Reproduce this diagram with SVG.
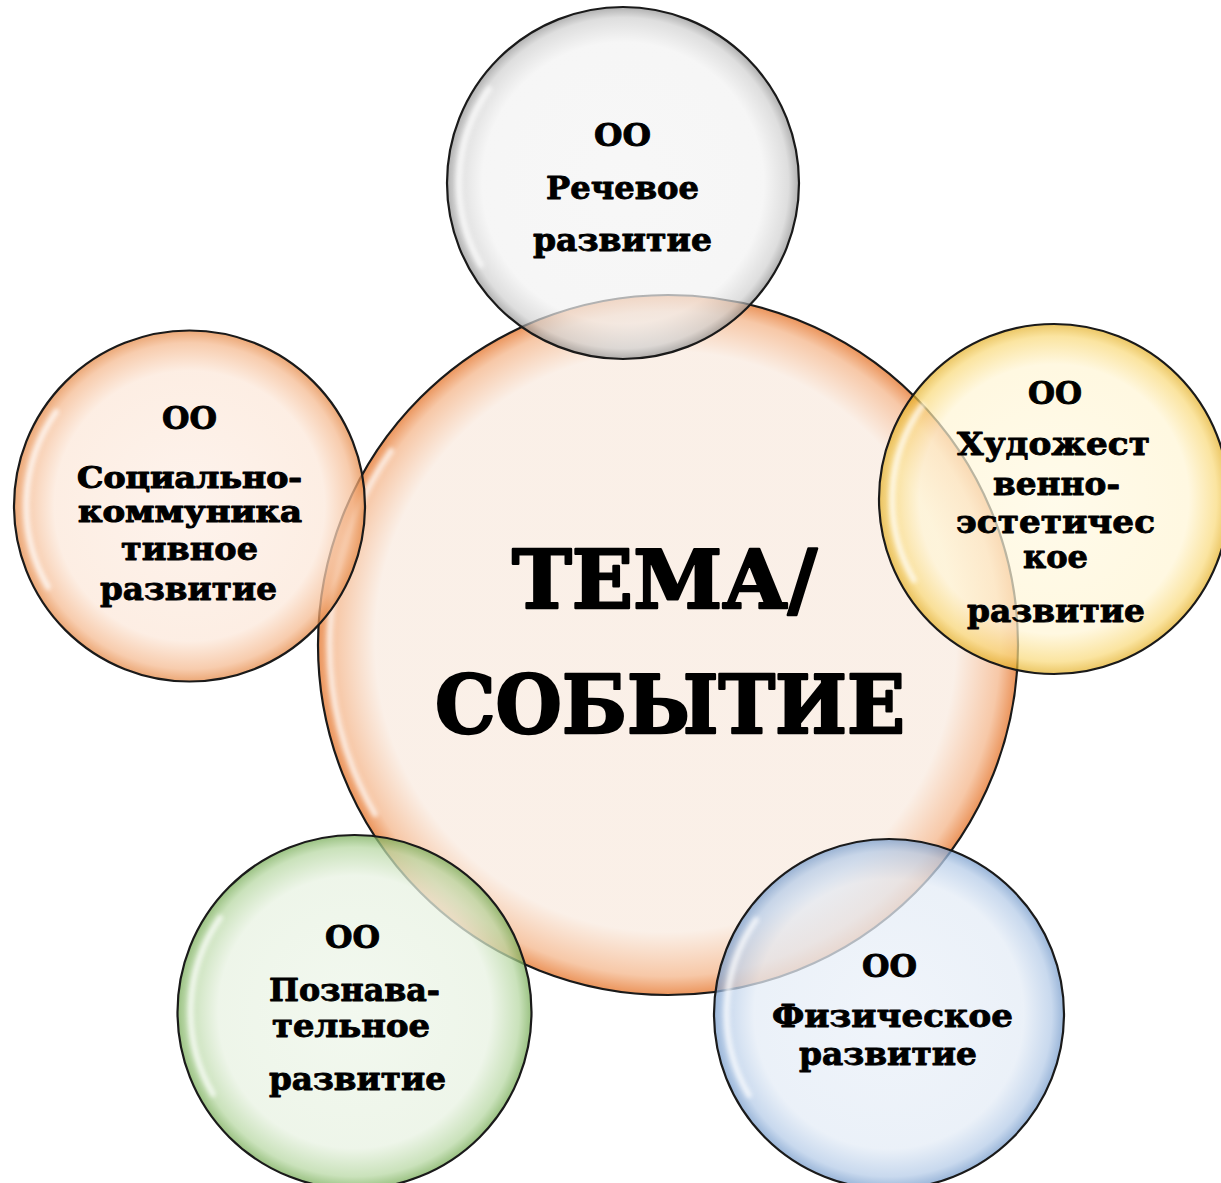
<svg xmlns="http://www.w3.org/2000/svg" width="1221" height="1183" viewBox="0 0 1221 1183">
<style>
.c{stroke:#1a1a1a;stroke-width:2.2}
.hl{fill:none;stroke:#ffffff;stroke-width:6;stroke-linecap:round;opacity:0.7;filter:url(#blur)}
.t{font-family:"DejaVu Serif","Liberation Serif",serif;font-weight:bold;font-size:32px;text-anchor:middle;fill:#000;stroke:#000;stroke-width:0.9;stroke-linejoin:round}
.sm{font-size:29px;stroke-width:1.1}
.big{font-size:80px;stroke-width:2.4}
</style>
<defs>
<filter id="blur" x="-20%" y="-20%" width="140%" height="140%"><feGaussianBlur stdDeviation="2"/></filter>
<radialGradient id="gCenter" cx="50%" cy="50%" r="50%" fx="48%" fy="47%">
<stop offset="0" stop-color="#faeee5"/><stop offset="0.83" stop-color="#faeee5"/><stop offset="0.95" stop-color="#f6c29e"/><stop offset="1" stop-color="#e9894a"/>
</radialGradient>
<radialGradient id="gGray" cx="50%" cy="50%" r="50%">
<stop offset="0" stop-color="#f4f4f4"/><stop offset="0.8" stop-color="#f2f2f2"/><stop offset="0.94" stop-color="#d0d0d0"/><stop offset="1" stop-color="#8f8f8f"/>
</radialGradient>
<radialGradient id="gOrange" cx="50%" cy="50%" r="50%">
<stop offset="0" stop-color="#fdefe6"/><stop offset="0.77" stop-color="#fce8da"/><stop offset="0.93" stop-color="#f5bb92"/><stop offset="1" stop-color="#e58a48"/>
</radialGradient>
<radialGradient id="gYellow" cx="50%" cy="50%" r="50%">
<stop offset="0" stop-color="#fff9e2"/><stop offset="0.77" stop-color="#fff5d4"/><stop offset="0.93" stop-color="#f9d978"/><stop offset="1" stop-color="#e3ae22"/>
</radialGradient>
<radialGradient id="gGreen" cx="50%" cy="50%" r="50%">
<stop offset="0" stop-color="#eef6ea"/><stop offset="0.77" stop-color="#e8f2e2"/><stop offset="0.93" stop-color="#b8d8a4"/><stop offset="1" stop-color="#78ad58"/>
</radialGradient>
<radialGradient id="gBlue" cx="50%" cy="50%" r="50%">
<stop offset="0" stop-color="#ebf1f9"/><stop offset="0.77" stop-color="#e4ecf6"/><stop offset="0.93" stop-color="#b6cce8"/><stop offset="1" stop-color="#789dcc"/>
</radialGradient>
</defs>
<rect width="1221" height="1183" fill="#ffffff"/>
<g id="connectors"/>
<g id="center">
<circle class="c" cx="668" cy="645" r="350" fill="url(#gCenter)" fill-opacity="0.9"/>
<path class="hl" d="M391,451 A338,338 0 0 0 375,814"/>
</g>
<g id="node-speech">
<circle class="c" cx="623" cy="183" r="176" fill="url(#gGray)" fill-opacity="0.7"/>
<path class="hl" d="M489,89 A164,164 0 0 0 481,265"/>
</g>
<g id="node-social">
<circle class="c" cx="189.5" cy="506" r="175.5" fill="url(#gOrange)" fill-opacity="0.75"/>
<path class="hl" d="M56,412 A163,163 0 0 0 48,587"/>
</g>
<g id="node-art">
<circle class="c" cx="1054" cy="499" r="175" fill="url(#gYellow)" fill-opacity="0.7"/>
<path class="hl" d="M922,406 A161,161 0 0 0 914,580"/>
</g>
<g id="node-cognitive">
<circle class="c" cx="354.5" cy="1012" r="177" fill="url(#gGreen)" fill-opacity="0.75"/>
<path class="hl" d="M220,918 A164,164 0 0 0 213,1094"/>
</g>
<g id="node-physical">
<circle class="c" cx="889" cy="1014" r="175" fill="url(#gBlue)" fill-opacity="0.75"/>
<path class="hl" d="M756,920 A162,162 0 0 0 749,1095"/>
</g>
<g id="labels">
<text class="t big" x="664.5" y="608" textLength="305" lengthAdjust="spacingAndGlyphs">ТЕМА/</text>
<text class="t big" x="670" y="733" textLength="470" lengthAdjust="spacingAndGlyphs">СОБЫТИЕ</text>

<text class="t" x="622.5" y="146" textLength="57" lengthAdjust="spacingAndGlyphs">ОО</text>
<text class="t" x="622.5" y="199" textLength="153" lengthAdjust="spacingAndGlyphs">Речевое</text>
<text class="t" x="622.5" y="251" textLength="179" lengthAdjust="spacingAndGlyphs">развитие</text>

<text class="t" x="189.5" y="429" textLength="55" lengthAdjust="spacingAndGlyphs">ОО</text>
<text class="t sm" x="189.5" y="488" textLength="225" lengthAdjust="spacingAndGlyphs">Социально-</text>
<text class="t sm" x="190" y="522" textLength="224" lengthAdjust="spacingAndGlyphs">коммуника</text>
<text class="t" x="189.5" y="560" textLength="137" lengthAdjust="spacingAndGlyphs">тивное</text>
<text class="t" x="188.5" y="600" textLength="177" lengthAdjust="spacingAndGlyphs">развитие</text>

<text class="t" x="1055" y="404" textLength="54" lengthAdjust="spacingAndGlyphs">ОО</text>
<text class="t" x="1053.5" y="455" textLength="193" lengthAdjust="spacingAndGlyphs">Художест</text>
<text class="t" x="1056.5" y="495" textLength="127" lengthAdjust="spacingAndGlyphs">венно-</text>
<text class="t" x="1055.5" y="533" textLength="199" lengthAdjust="spacingAndGlyphs">эстетичес</text>
<text class="t" x="1055.5" y="568" textLength="65" lengthAdjust="spacingAndGlyphs">кое</text>
<text class="t" x="1056" y="622" textLength="178" lengthAdjust="spacingAndGlyphs">развитие</text>

<text class="t" x="352.5" y="948" textLength="55" lengthAdjust="spacingAndGlyphs">ОО</text>
<text class="t" x="354.5" y="1001" textLength="171" lengthAdjust="spacingAndGlyphs">Познава-</text>
<text class="t" x="351" y="1037" textLength="158" lengthAdjust="spacingAndGlyphs">тельное</text>
<text class="t" x="357.5" y="1090" textLength="177" lengthAdjust="spacingAndGlyphs">развитие</text>

<text class="t" x="889.5" y="977" textLength="55" lengthAdjust="spacingAndGlyphs">ОО</text>
<text class="t" x="892.5" y="1027" textLength="241" lengthAdjust="spacingAndGlyphs">Физическое</text>
<text class="t" x="888" y="1065" textLength="178" lengthAdjust="spacingAndGlyphs">развитие</text>
</g>
</svg>
